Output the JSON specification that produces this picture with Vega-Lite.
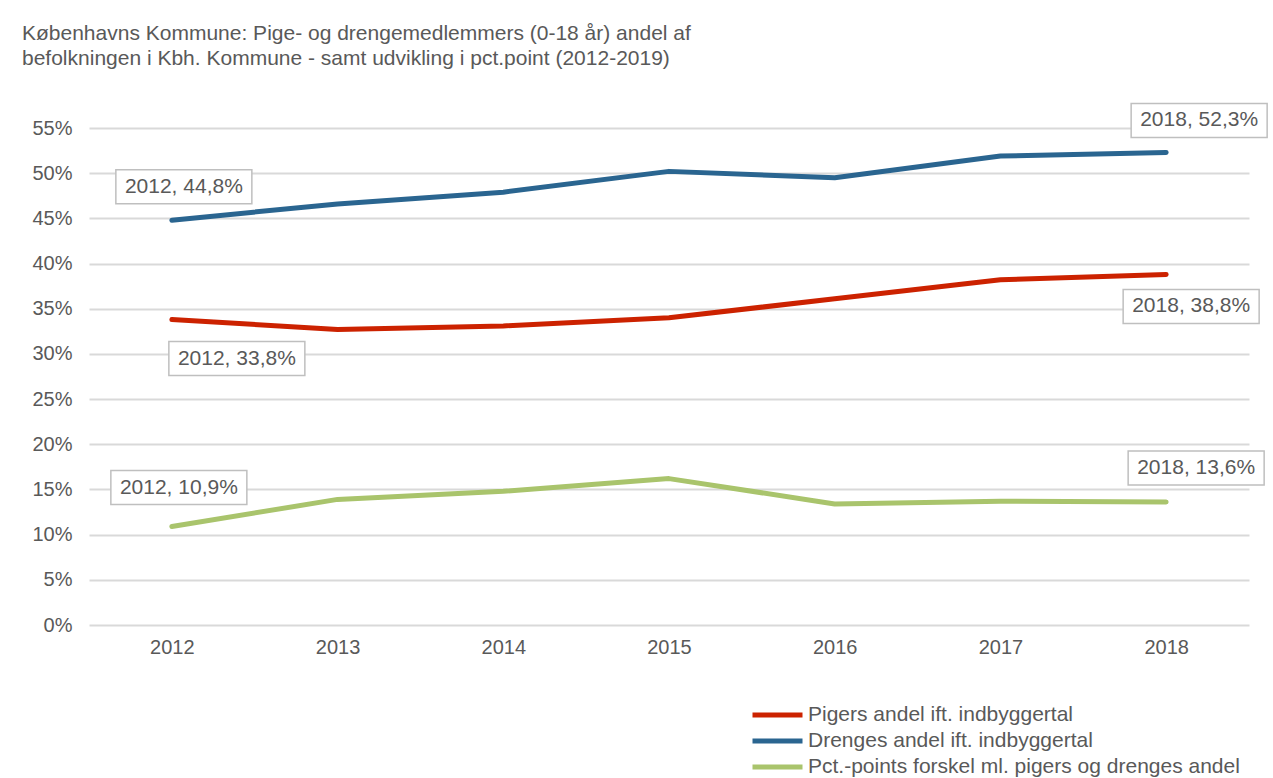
{
  "$schema": "https://vega.github.io/schema/vega-lite/v6.json",
  "autosize": {"type": "none"},
  "width": 1160,
  "height": 497,
  "padding": {"left": 89, "top": 128, "right": 24, "bottom": 153},
  "background": "white",
  "title": {
    "text": ["Københavns Kommune: Pige- og drengemedlemmers (0-18 år) andel af", "befolkningen i Kbh. Kommune - samt udvikling i pct.point (2012-2019)"],
    "anchor": "start",
    "frame": "group",
    "dx": -67,
    "offset": 31,
    "font": "Liberation Sans",
    "fontSize": 21,
    "fontWeight": "normal",
    "color": "#595959",
    "lineHeight": 25
  },
  "config": {
    "view": {"stroke": null},
    "font": "Liberation Sans",
    "axis": {"labelFont": "Liberation Sans", "labelFontSize": 20, "labelColor": "#595959", "domain": false, "ticks": false, "title": null}
  },
  "data": {
    "values": [
      {"year": "2012", "serie": "Pigers andel ift. indbyggertal", "value": 33.8},
      {"year": "2013", "serie": "Pigers andel ift. indbyggertal", "value": 32.7},
      {"year": "2014", "serie": "Pigers andel ift. indbyggertal", "value": 33.1},
      {"year": "2015", "serie": "Pigers andel ift. indbyggertal", "value": 34.0},
      {"year": "2016", "serie": "Pigers andel ift. indbyggertal", "value": 36.1},
      {"year": "2017", "serie": "Pigers andel ift. indbyggertal", "value": 38.2},
      {"year": "2018", "serie": "Pigers andel ift. indbyggertal", "value": 38.8},
      {"year": "2012", "serie": "Drenges andel ift. indbyggertal", "value": 44.8},
      {"year": "2013", "serie": "Drenges andel ift. indbyggertal", "value": 46.6},
      {"year": "2014", "serie": "Drenges andel ift. indbyggertal", "value": 47.9},
      {"year": "2015", "serie": "Drenges andel ift. indbyggertal", "value": 50.2},
      {"year": "2016", "serie": "Drenges andel ift. indbyggertal", "value": 49.5},
      {"year": "2017", "serie": "Drenges andel ift. indbyggertal", "value": 51.9},
      {"year": "2018", "serie": "Drenges andel ift. indbyggertal", "value": 52.3},
      {"year": "2012", "serie": "Pct.-points forskel ml. pigers og drenges andel", "value": 10.9},
      {"year": "2013", "serie": "Pct.-points forskel ml. pigers og drenges andel", "value": 13.9},
      {"year": "2014", "serie": "Pct.-points forskel ml. pigers og drenges andel", "value": 14.8},
      {"year": "2015", "serie": "Pct.-points forskel ml. pigers og drenges andel", "value": 16.2},
      {"year": "2016", "serie": "Pct.-points forskel ml. pigers og drenges andel", "value": 13.4},
      {"year": "2017", "serie": "Pct.-points forskel ml. pigers og drenges andel", "value": 13.7},
      {"year": "2018", "serie": "Pct.-points forskel ml. pigers og drenges andel", "value": 13.6}
    ]
  },
  "transform": [
    {"calculate": "datum.year + ', ' + replace(format(datum.value, '.1f'), '.', ',') + '%'", "as": "label"}
  ],
  "encoding": {
    "x": {"field": "year", "type": "ordinal", "scale": {"type": "point", "padding": 0.5},
          "axis": {"labelAngle": 0, "labelPadding": 12, "grid": false}},
    "y": {"field": "value", "type": "quantitative", "scale": {"domain": [0, 55], "nice": false},
          "axis": {"values": [0, 5, 10, 15, 20, 25, 30, 35, 40, 45, 50, 55], "labelExpr": "datum.value + '%'", "labelPadding": 17, "grid": true, "gridColor": "#d9d9d9", "gridWidth": 2}}
  },
  "layer": [
    {
      "mark": {"type": "line", "strokeWidth": 5, "strokeCap": "round", "strokeJoin": "round"},
      "encoding": {
        "color": {"field": "serie", "type": "nominal",
          "scale": {"domain": ["Pigers andel ift. indbyggertal", "Drenges andel ift. indbyggertal", "Pct.-points forskel ml. pigers og drenges andel"], "range": ["#cc2200", "#2a6590", "#a9c46c"]},
          "legend": {"orient": "none", "legendX": 661, "legendY": 574, "title": null, "symbolType": "stroke", "symbolSize": 2500, "symbolStrokeWidth": 5, "labelFont": "Liberation Sans", "labelFontSize": 21, "labelColor": "#595959", "clipHeight": 26, "rowPadding": 0, "labelOffset": 3, "labelLimit": 700, "padding": 0}}
      }
    },
    {
      "transform": [{"filter": "datum.year == '2012' && datum.serie == 'Drenges andel ift. indbyggertal'"}],
      "layer": [
        {"mark": {"type": "point", "shape": "M-1,-0.25H1V0.25H-1Z", "size": 18496, "filled": true, "fill": "white", "fillOpacity": 1, "stroke": "#bfbfbf", "strokeWidth": 1.5, "opacity": 1, "xOffset": 12, "yOffset": -33.5}},
        {"mark": {"type": "text", "font": "Liberation Sans", "fontSize": 21, "color": "#595959", "align": "center", "baseline": "middle", "xOffset": 12, "yOffset": -33.5}, "encoding": {"text": {"field": "label"}}}
      ]
    },
    {
      "transform": [{"filter": "datum.year == '2012' && datum.serie == 'Pigers andel ift. indbyggertal'"}],
      "layer": [
        {"mark": {"type": "point", "shape": "M-1,-0.25H1V0.25H-1Z", "size": 18496, "filled": true, "fill": "white", "fillOpacity": 1, "stroke": "#bfbfbf", "strokeWidth": 1.5, "opacity": 1, "xOffset": 65, "yOffset": 39}},
        {"mark": {"type": "text", "font": "Liberation Sans", "fontSize": 21, "color": "#595959", "align": "center", "baseline": "middle", "xOffset": 65, "yOffset": 39}, "encoding": {"text": {"field": "label"}}}
      ]
    },
    {
      "transform": [{"filter": "datum.year == '2012' && datum.serie == 'Pct.-points forskel ml. pigers og drenges andel'"}],
      "layer": [
        {"mark": {"type": "point", "shape": "M-1,-0.25H1V0.25H-1Z", "size": 18496, "filled": true, "fill": "white", "fillOpacity": 1, "stroke": "#bfbfbf", "strokeWidth": 1.5, "opacity": 1, "xOffset": 7, "yOffset": -39}},
        {"mark": {"type": "text", "font": "Liberation Sans", "fontSize": 21, "color": "#595959", "align": "center", "baseline": "middle", "xOffset": 7, "yOffset": -39}, "encoding": {"text": {"field": "label"}}}
      ]
    },
    {
      "transform": [{"filter": "datum.year == '2018' && datum.serie == 'Drenges andel ift. indbyggertal'"}],
      "layer": [
        {"mark": {"type": "point", "shape": "M-1,-0.25H1V0.25H-1Z", "size": 18496, "filled": true, "fill": "white", "fillOpacity": 1, "stroke": "#bfbfbf", "strokeWidth": 1.5, "opacity": 1, "xOffset": 33, "yOffset": -32}},
        {"mark": {"type": "text", "font": "Liberation Sans", "fontSize": 21, "color": "#595959", "align": "center", "baseline": "middle", "xOffset": 33, "yOffset": -32}, "encoding": {"text": {"field": "label"}}}
      ]
    },
    {
      "transform": [{"filter": "datum.year == '2018' && datum.serie == 'Pigers andel ift. indbyggertal'"}],
      "layer": [
        {"mark": {"type": "point", "shape": "M-1,-0.25H1V0.25H-1Z", "size": 18496, "filled": true, "fill": "white", "fillOpacity": 1, "stroke": "#bfbfbf", "strokeWidth": 1.5, "opacity": 1, "xOffset": 25, "yOffset": 32}},
        {"mark": {"type": "text", "font": "Liberation Sans", "fontSize": 21, "color": "#595959", "align": "center", "baseline": "middle", "xOffset": 25, "yOffset": 32}, "encoding": {"text": {"field": "label"}}}
      ]
    },
    {
      "transform": [{"filter": "datum.year == '2018' && datum.serie == 'Pct.-points forskel ml. pigers og drenges andel'"}],
      "layer": [
        {"mark": {"type": "point", "shape": "M-1,-0.25H1V0.25H-1Z", "size": 18496, "filled": true, "fill": "white", "fillOpacity": 1, "stroke": "#bfbfbf", "strokeWidth": 1.5, "opacity": 1, "xOffset": 30, "yOffset": -34}},
        {"mark": {"type": "text", "font": "Liberation Sans", "fontSize": 21, "color": "#595959", "align": "center", "baseline": "middle", "xOffset": 30, "yOffset": -34}, "encoding": {"text": {"field": "label"}}}
      ]
    }
  ]
}
